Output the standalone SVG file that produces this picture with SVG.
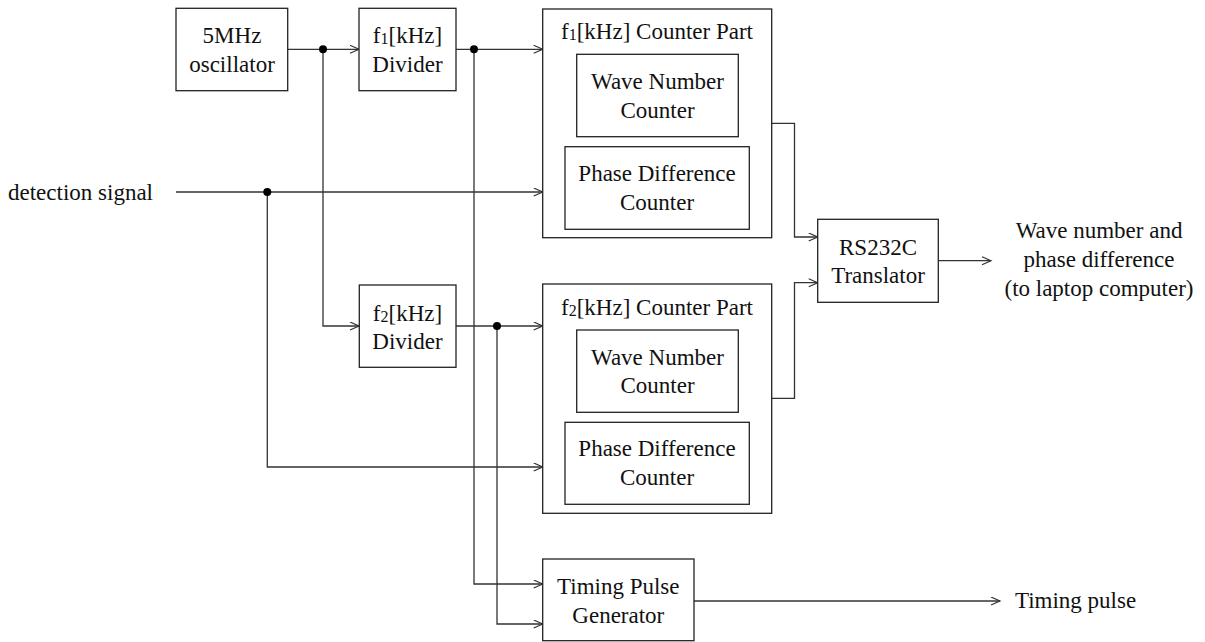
<svg xmlns="http://www.w3.org/2000/svg" width="1205" height="642" viewBox="0 0 1205 642">
<style>
.box{fill:#fff;stroke:#222;stroke-width:1.3}
.ln{fill:none;stroke:#333;stroke-width:1.3}
text{font-family:'Liberation Serif','Times New Roman',Times,serif;font-size:23px;fill:#111;text-anchor:middle}
.s{font-size:16px}
.dot{fill:#000}
</style>
<defs>
<marker id="ar" markerUnits="userSpaceOnUse" markerWidth="12" markerHeight="10" refX="10" refY="4.5" orient="auto">
<path d="M1,0.5 L10,4.5 L1,8.5" fill="none" stroke="#333" stroke-width="1.2"/>
</marker>
</defs>
<rect width="1205" height="642" fill="#fff"/>
<g id="connectors">
<path class="ln" d="M288,49.3 H359" marker-end="url(#ar)"/>
<path class="ln" d="M323,49.3 V326 H359" marker-end="url(#ar)"/>
<path class="ln" d="M456,49.3 H542.7" marker-end="url(#ar)"/>
<path class="ln" d="M474,49.3 V584 H542.7" marker-end="url(#ar)"/>
<path class="ln" d="M456,326 H542.7" marker-end="url(#ar)"/>
<path class="ln" d="M497,326 V624 H542.7" marker-end="url(#ar)"/>
<path class="ln" d="M176,192 H542.7" marker-end="url(#ar)"/>
<path class="ln" d="M267.3,192 V467 H542.7" marker-end="url(#ar)"/>
<path class="ln" d="M772,123.3 H794.5 V237 H817.7" marker-end="url(#ar)"/>
<path class="ln" d="M772,398.3 H794.5 V282.7 H817.7" marker-end="url(#ar)"/>
<path class="ln" d="M938.3,260.7 H991" marker-end="url(#ar)"/>
<path class="ln" d="M694,601 H1000" marker-end="url(#ar)"/>
<circle class="dot" cx="323" cy="49.3" r="4"/>
<circle class="dot" cx="474" cy="49.3" r="4"/>
<circle class="dot" cx="497" cy="326" r="4"/>
<circle class="dot" cx="267.3" cy="192" r="4"/>
</g>
<g id="oscillator">
<rect class="box" x="176" y="8.3" width="111.7" height="82.4"/>
<text x="232" y="43.3">5MHz</text>
<text x="232" y="71.7">oscillator</text>
</g>
<g id="f1-divider">
<rect class="box" x="359" y="8.3" width="97" height="82.4"/>
<text x="407.5" y="43.3">f<tspan class="s" dy="1">1</tspan><tspan dy="-1">[kHz]</tspan></text>
<text x="407.5" y="71.7">Divider</text>
</g>
<g id="f1-counter-part">
<rect class="box" x="542.7" y="9" width="229" height="228.7"/>
<text x="657" y="39.3">f<tspan class="s" dy="1">1</tspan><tspan dy="-1">[kHz] Counter Part</tspan></text>
<g id="f1-wave-number-counter">
<rect class="box" x="576.7" y="54.3" width="161.6" height="82.4"/>
<text x="657.5" y="89.3">Wave Number</text>
<text x="657.5" y="118">Counter</text>
</g>
<g id="f1-phase-difference-counter">
<rect class="box" x="565" y="146.7" width="184.3" height="82.6"/>
<text x="657" y="181">Phase Difference</text>
<text x="657" y="209.8">Counter</text>
</g>
</g>
<g id="f2-divider">
<rect class="box" x="359.3" y="285" width="96.7" height="82.3"/>
<text x="407.5" y="320.5">f<tspan class="s" dy="1">2</tspan><tspan dy="-1">[kHz]</tspan></text>
<text x="407.5" y="348.5">Divider</text>
</g>
<g id="f2-counter-part">
<rect class="box" x="542.7" y="284" width="229" height="229.3"/>
<text x="657" y="314.6">f<tspan class="s" dy="1">2</tspan><tspan dy="-1">[kHz] Counter Part</tspan></text>
<g id="f2-wave-number-counter">
<rect class="box" x="576.7" y="330" width="161.6" height="82.3"/>
<text x="657.5" y="364.6">Wave Number</text>
<text x="657.5" y="393.3">Counter</text>
</g>
<g id="f2-phase-difference-counter">
<rect class="box" x="565" y="422.3" width="184.3" height="82"/>
<text x="657" y="456.3">Phase Difference</text>
<text x="657" y="485">Counter</text>
</g>
</g>
<g id="rs232c-translator">
<rect class="box" x="817.7" y="219.3" width="120.6" height="83"/>
<text x="878" y="255">RS232C</text>
<text x="878" y="283">Translator</text>
</g>
<g id="timing-pulse-generator">
<rect class="box" x="542.7" y="559" width="151.3" height="81.7"/>
<text x="618.3" y="593.5">Timing Pulse</text>
<text x="618.3" y="622.5">Generator</text>
</g>
<g id="labels">
<text x="80.5" y="199.5">detection signal</text>
<text x="1099" y="238.3">Wave number and</text>
<text x="1099" y="267.3">phase difference</text>
<text x="1099" y="296.3">(to laptop computer)</text>
<text x="1075.5" y="608.3">Timing pulse</text>
</g>
</svg>
